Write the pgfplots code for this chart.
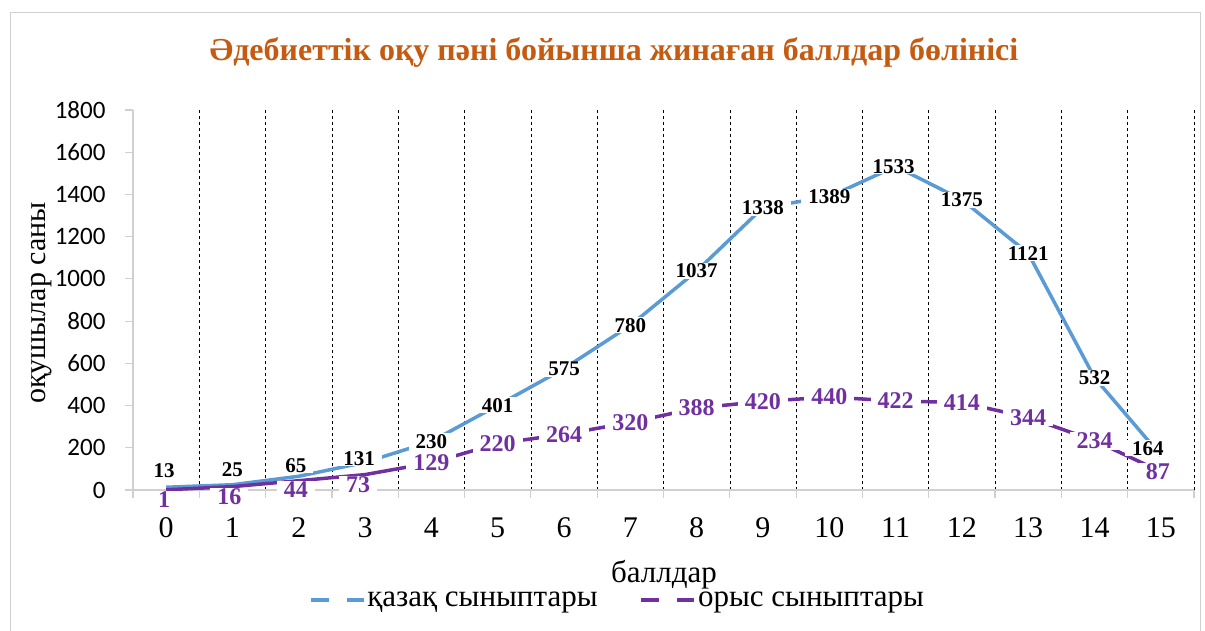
\documentclass[border=0pt]{standalone}
\usepackage{fontspec}
\setmainfont{Liberation Serif}
\newfontfamily\calibri{Carlito}
\usepackage{pgfplots}
\pgfplotsset{compat=1.18}
\usepackage{pgfplotstable}
\definecolor{kzblue}{HTML}{5B9BD5}
\definecolor{rupurple}{HTML}{7030A0}
\definecolor{titleor}{HTML}{C55A11}
\definecolor{axgray}{HTML}{D0D0D0}

\pgfplotstableread{
x y dx dy
0 13 -2 17
1 25 0 15
2 65 -3 11
3 131 -6 4
4 230 0 0
5 401 0 0
6 575 0 0
7 780 0 0
8 1037 0 0
9 1338 0 0
10 1389 0 0
11 1533 -2 0
12 1375 0 0
13 1121 0 0
14 532 0 0
15 164 -13 7
}\kaz

\pgfplotstableread{
x y dx dy
0 1 -2 -10
1 16 -3 -10
2 44 -3 -9
3 73 -7 -10
4 129 0 0
5 220 0 0
6 264 0 0
7 320 0 0
8 388 0 0
9 420 0 0
10 440 0 0
11 422 0 0
12 414 0 0
13 344 0 0
14 234 0 0
15 87 -3 0
}\rus

\begin{document}
\begin{tikzpicture}
\useasboundingbox (0bp,0bp) rectangle (1205bp,631bp);
\draw[axgray, line width=1bp] (10bp,0bp) -- (10bp,618bp) -- (1200bp,618bp) -- (1200bp,0bp);
\node[anchor=base, text=titleor, font=\bfseries\fontsize{32bp}{36bp}\selectfont] at (614bp,570bp)
  {Әдебиеттік оқу пәні бойынша жинаған баллдар бөлінісі};
\node[anchor=base, rotate=90, font=\fontsize{30bp}{34bp}\selectfont] at (45bp,328bp) {оқушылар саны};
\node[anchor=base, font=\fontsize{31bp}{34bp}\selectfont] at (664bp,48bp) {баллдар};
\begin{axis}[
  at={(133bp,141bp)}, anchor=south west,
  scale only axis, width=1061bp, height=380bp,
  xmin=-0.5, xmax=15.5, ymin=0, ymax=1800,
  axis x line*=bottom, axis y line*=left,
  axis line style={axgray, line width=1.5bp},
  xtick={0,...,15},
  major x tick style={draw=none},
  minor xtick={0.5,1.5,...,15.5},
  minor x tick style={axgray, line width=1.2bp},
  minor tick length=8bp,
  minor x grid style={black, dashed, line width=0.6bp},
  xminorgrids=true,
  extra x ticks={-0.5},
  extra x tick labels={},
  extra x tick style={grid=none, major tick length=8bp, major x tick style={axgray, line width=1.2bp, draw=axgray}},
  ytick={0,200,...,1800},
  y tick style={axgray, line width=1.2bp},
  major tick length=8bp,
  tick align=outside,
  /pgf/number format/1000 sep={},
  /pgf/number format/assume math mode=true,
  yticklabel style={font=\calibri\fontsize{25bp}{28bp}\selectfont, xshift=-16bp},
  xticklabel style={font=\fontsize{30bp}{32bp}\selectfont, yshift=-16bp},
  clip=false,
  legend columns=2,
  legend style={at={(0.4566,-0.2895)}, anchor=center, draw=none, fill=none,
    font=\fontsize{31bp}{34bp}\selectfont,
    /tikz/every even column/.append style={column sep=40bp},
    /tikz/every odd column/.append style={column sep=0bp},
    nodes={inner sep=2bp}},
  legend image code/.code={\draw[#1, line width=3.5bp, dash pattern=on 18bp off 18bp on 17bp] (0bp,0bp) -- (53bp,0bp);},
  point meta=explicit,
  nodes near coords={\pgfmathprintnumber[fixed,precision=0,1000 sep={}]{\pgfplotspointmeta}},
  visualization depends on={\thisrow{dx} \as \ldx},
  visualization depends on={\thisrow{dy} \as \ldy},
  every node near coord/.append style={anchor=center, fill=white, inner xsep=7bp, inner ysep=1bp,
     xshift=\ldx bp, yshift=\ldy bp},
]
\addplot[kzblue, line width=3.5bp, nodes near coords style={text=black, font=\bfseries\fontsize{21bp}{24bp}\selectfont}]
  table[x=x, y=y, meta=y] {\kaz};
\addlegendentry{қазақ сыныптары}
\addplot[rupurple, line width=3.5bp, nodes near coords style={text=rupurple, font=\bfseries\fontsize{24bp}{26bp}\selectfont}]
  table[x=x, y=y, meta=y] {\rus};
\addlegendentry{орыс сыныптары}
\end{axis}
\end{tikzpicture}
\end{document}
